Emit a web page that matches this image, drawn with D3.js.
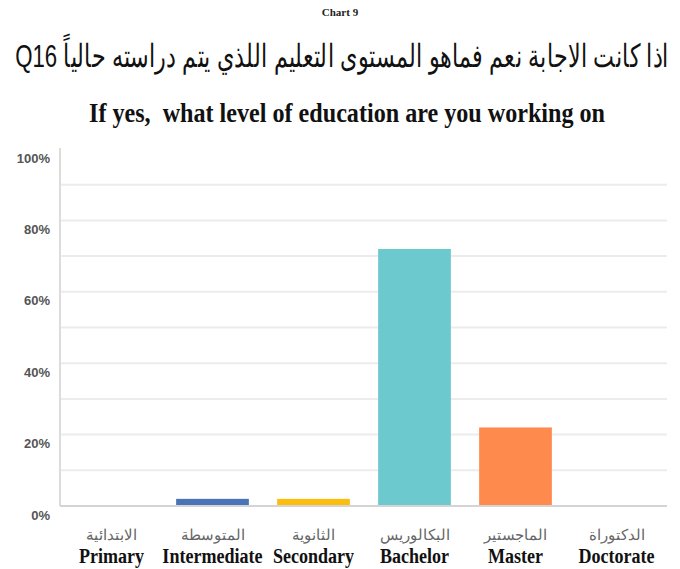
<!DOCTYPE html>
<html>
<head>
<meta charset="utf-8">
<script src="https://cdn.jsdelivr.net/npm/d3@7"></script>
<style>
  body { margin: 0; background: #fff; }
  svg { display: block; }
</style>
</head>
<body>
<div id="chart"></div>
<script>
// chart data
var categories = ["Primary", "Intermediate", "Secondary", "Bachelor", "Master", "Doctorate"];
var arabicLabels = ["الابتدائية", "المتوسطة", "الثانوية", "البكالوريس", "الماجستير", "الدكتوراة"];
var values = [0, 2, 2, 72, 22, 0];
var barColors = ["#4a74b5", "#4a74b5", "#fbbd0e", "#6cc9cd", "#fe8a4e", "#fe8a4e"];
var yTicks = [0, 20, 40, 60, 80, 100];
var gridTicks = [10, 20, 30, 40, 50, 60, 70, 80, 90];

var width = 680, height = 569;

var svg = d3.select("#chart").append("svg")
  .attr("width", width)
  .attr("height", height);

var x = d3.scaleBand()
  .domain(categories)
  .range([61, 667])
  .paddingInner(0.28)
  .paddingOuter(0.14);

var y = d3.scaleLinear()
  .domain([0, 100])
  .range([506, 149]);

// titles
svg.append("text")
  .attr("x", 340).attr("y", 16)
  .attr("text-anchor", "middle")
  .style("font-family", "'Liberation Serif', serif")
  .style("font-weight", "bold")
  .style("font-size", "11px")
  .attr("fill", "#222")
  .text("Chart 9");

// arabic title: tall glyphs squeezed to the original's width
var arG = svg.append("g").attr("transform", "translate(342,67)");
var arTitle = arG.append("text")
  .attr("direction", "rtl")
  .attr("text-anchor", "middle")
  .style("font-family", "'Liberation Sans', Arial, sans-serif")
  .style("font-size", "32px")
  .attr("fill", "#111")
  .text("اذا كانت الاجابة نعم فماهو المستوى التعليم اللذي يتم دراسته حالياً Q16");
var tw = arTitle.node().getComputedTextLength();
arTitle.attr("transform", "scale(" + Math.min(1, 646 / tw) + ",1)");

svg.append("text")
  .attr("x", 89).attr("y", 122)
  .attr("textLength", 516)
  .attr("lengthAdjust", "spacingAndGlyphs")
  .style("white-space", "pre")
  .style("font-family", "'Liberation Serif', serif")
  .style("font-weight", "bold")
  .style("font-size", "27px")
  .attr("fill", "#111")
  .text("If yes,  what level of education are you working on");

// grid lines
svg.selectAll(".grid")
  .data(gridTicks)
  .enter().append("line")
  .attr("class", "grid")
  .attr("x1", 61).attr("x2", 667)
  .attr("y1", function(d) { return y(d); })
  .attr("y2", function(d) { return y(d); })
  .attr("stroke", "#ececec")
  .attr("stroke-width", 2);

// left axis line
svg.append("line")
  .attr("x1", 60).attr("x2", 60)
  .attr("y1", 148).attr("y2", y(0))
  .attr("stroke", "#dcdcdc").attr("stroke-width", 2);

// bars
svg.selectAll(".bar")
  .data(values)
  .enter().append("rect")
  .attr("class", "bar")
  .attr("x", function(d, i) { return x(categories[i]); })
  .attr("width", x.bandwidth())
  .attr("y", function(d) { return y(d); })
  .attr("height", function(d) { return y(0) - y(d); })
  .attr("fill", function(d, i) { return barColors[i]; });

// baseline
svg.append("line")
  .attr("x1", 60).attr("x2", 667)
  .attr("y1", y(0)).attr("y2", y(0))
  .attr("stroke", "#d4d4d4").attr("stroke-width", 2);

// y tick labels (sit a bit below their gridline, like the original)
svg.selectAll(".ylab")
  .data(yTicks)
  .enter().append("text")
  .attr("class", "ylab")
  .attr("x", 50)
  .attr("y", function(d) { return y(d) + 9; })
  .attr("dy", "0.35em")
  .attr("text-anchor", "end")
  .style("font-family", "'Liberation Sans', Arial, sans-serif")
  .style("font-weight", "bold")
  .style("font-size", "13px")
  .attr("fill", "#555")
  .text(function(d) { return d + "%"; });

// x labels: arabic + english
var xl = svg.selectAll(".xlab")
  .data(categories)
  .enter().append("g")
  .attr("class", "xlab")
  .attr("transform", function(d) { return "translate(" + (x(d) + x.bandwidth() / 2) + ",0)"; });

xl.append("text")
  .attr("y", 540)
  .attr("text-anchor", "middle")
  .attr("direction", "rtl")
  .style("font-family", "'Liberation Sans', Arial, sans-serif")
  .style("font-size", "15px")
  .attr("fill", "#666")
  .text(function(d, i) { return arabicLabels[i]; });

xl.append("text")
  .attr("y", 563)
  .attr("text-anchor", "middle")
  .attr("transform", "scale(0.86,1)")
  .style("font-family", "'Liberation Serif', serif")
  .style("font-weight", "bold")
  .style("font-size", "21px")
  .attr("fill", "#111")
  .text(function(d) { return d; });
</script>
</body>
</html>
